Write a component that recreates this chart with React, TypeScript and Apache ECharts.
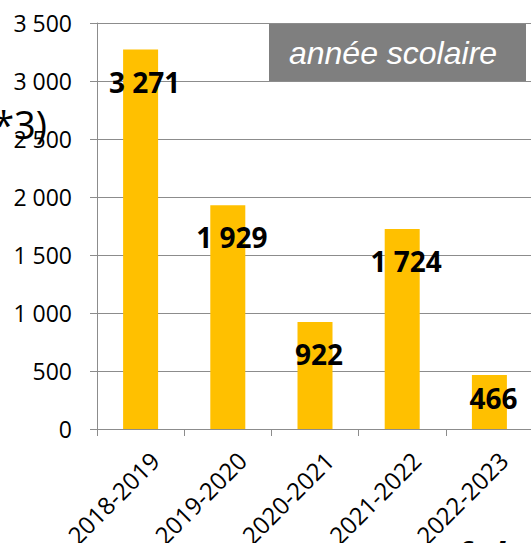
import React, { useEffect, useRef } from "react";
import * as echarts from "echarts";

const categories = ["2018-2019", "2019-2020", "2020-2021", "2021-2022", "2022-2023"];
const values = [3271, 1929, 922, 1724, 466];
const labelDistances = [18, 18, 18, 18, 9];
const yMin = 0;
const yMax = 3500;
const yInterval = 500;

const fmt = (v: number) => {
  const s = String(Math.round(v));
  return s.replace(/\B(?=(\d{3})+(?!\d))/g, " ");
};

export default function App() {
  const ref = useRef<HTMLDivElement>(null);
  useEffect(() => {
    document.body.style.margin = "0";
    if (!ref.current) return;
    const chart = echarts.init(ref.current, null, { renderer: "svg" });
    const grey = "#8c8c8c";
    const font = "'Open Sans', sans-serif";
    chart.setOption({
      animation: false,
      backgroundColor: "#ffffff",
      grid: { left: 97, top: 23, width: 436, height: 406, containLabel: false, outerBoundsMode: "none" },
      xAxis: {
        type: "category",
        data: categories,
        axisLine: { show: true, lineStyle: { color: grey, width: 1 } },
        axisTick: { show: true, length: 7, alignWithLabel: false, lineStyle: { color: grey } },
        axisLabel: {
          rotate: 45,
          fontSize: 24,
          color: "#000",
          fontFamily: font,
          margin: 13,
          interval: 0,
          verticalAlign: "top",
          padding: [8, 0, 0, 0],
        },
        splitLine: { show: false },
      },
      yAxis: {
        type: "value",
        min: yMin,
        max: yMax,
        interval: yInterval,
        axisLine: { show: true, lineStyle: { color: grey, width: 1 } },
        axisTick: { show: true, length: 7, inside: false, lineStyle: { color: grey } },
        axisLabel: { fontSize: 23, color: "#000", fontFamily: font, margin: 25, formatter: (v: number) => fmt(v) },
        splitLine: { show: true, lineStyle: { color: grey, width: 1 } },
      },
      series: [
        {
          type: "bar",
          barWidth: 35,
          itemStyle: { color: "#FFC000" },
          data: values.map((v, i) => ({
            value: v,
            label: { distance: labelDistances[i] },
          })),
          label: {
            show: true,
            position: "insideTop",
            offset: [4, 0],
            fontSize: 28,
            fontWeight: "bold",
            fontFamily: font,
            color: "#000",
            formatter: (p: any) => fmt(p.value),
          },
        },
      ],
      graphic: [
        {
          type: "rect",
          shape: { x: 269, y: 24, width: 257, height: 57 },
          style: { fill: "#7f7f7f" },
          z: 10,
        },
        {
          type: "text",
          x: 393,
          y: 53,
          z: 11,
          style: {
            text: "année scolaire",
            fill: "#ffffff",
            font: "italic 32px 'Liberation Sans', Arial, sans-serif",
            textAlign: "center",
            textVerticalAlign: "middle",
          },
        },
        {
          type: "text",
          x: 47,
          y: 124,
          z: 11,
          style: {
            text: "*3)",
            fill: "#000000",
            font: "38px 'Open Sans', sans-serif",
            textAlign: "right",
            textVerticalAlign: "middle",
          },
        },
        {
          type: "text",
          x: 456,
          y: 536,
          z: 11,
          style: {
            text: "f",
            fill: "#000000",
            font: "italic bold 36px 'Open Sans', sans-serif",
            textAlign: "left",
            textVerticalAlign: "top",
          },
        },
        {
          type: "text",
          x: 494,
          y: 536,
          z: 11,
          style: {
            text: "l",
            fill: "#000000",
            font: "italic bold 36px 'Open Sans', sans-serif",
            textAlign: "left",
            textVerticalAlign: "top",
          },
        },
      ],
    });
    return () => chart.dispose();
  }, []);
  return <div ref={ref} style={{ width: 531, height: 543 }} />;
}
